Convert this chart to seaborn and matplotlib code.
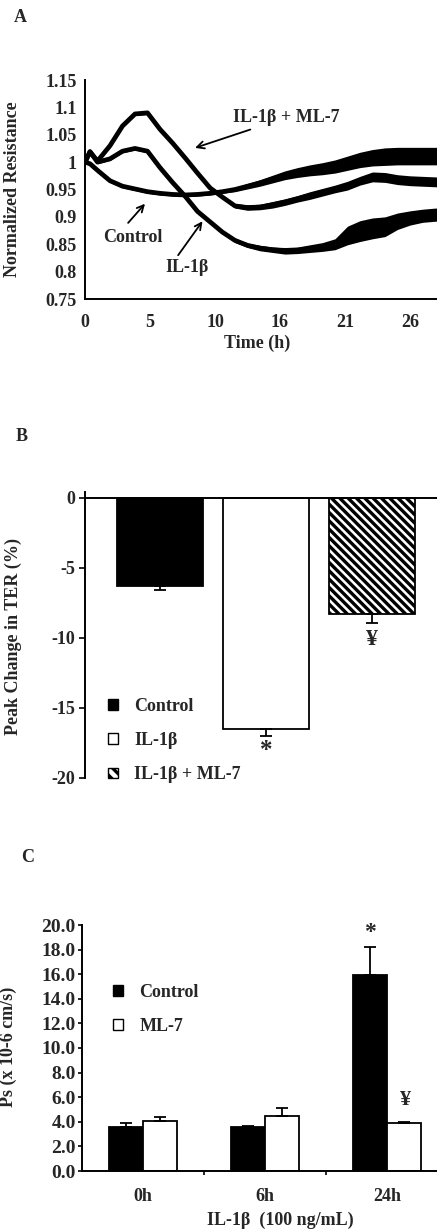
import numpy as np
import pandas as pd
import matplotlib
matplotlib.use("Agg")
import matplotlib.pyplot as plt
import seaborn as sns
from matplotlib.patches import Patch

# ---------------- Panel A data ----------------
time_h = [0, 0.4, 1, 2, 3, 4, 5, 6, 7, 8, 9, 10, 11, 12, 13, 14, 15, 16,
          17, 18, 19, 20, 21, 22, 23, 24, 25, 26, 27, 28, 29, 30, 31]
control_res = [1.0, 0.997, 0.985, 0.966, 0.956, 0.951, 0.946, 0.943, 0.941,
               0.940, 0.941, 0.943, 0.946, 0.950, 0.956, 0.962, 0.969, 0.976,
               0.981, 0.985, 0.988, 0.992, 0.998, 1.004, 1.008, 1.010, 1.011,
               1.011, 1.011, 1.011, 1.012, 1.013, 1.014]
il1b_res = [1.0, 1.019, 1.0, 1.006, 1.020, 1.025, 1.020, 0.990, 0.963, 0.938,
            0.910, 0.891, 0.872, 0.857, 0.848, 0.843, 0.840, 0.838, 0.839,
            0.842, 0.845, 0.850, 0.866, 0.874, 0.879, 0.882, 0.892, 0.898,
            0.902, 0.904, 0.905, 0.906, 0.906]
il1b_ml7_res = [1.0, 1.019, 1.002, 1.030, 1.066, 1.088, 1.090, 1.060, 1.035,
                1.008, 0.980, 0.953, 0.936, 0.920, 0.917, 0.918, 0.922, 0.927,
                0.933, 0.939, 0.945, 0.951, 0.957, 0.966, 0.973, 0.972, 0.968,
                0.966, 0.965, 0.964, 0.963, 0.963, 0.963]
control_spread = [0.003, 0.003, 0.003, 0.003, 0.003, 0.003, 0.003, 0.003,
                  0.003, 0.003, 0.003, 0.003, 0.003, 0.004, 0.005, 0.006,
                  0.007, 0.008, 0.009, 0.010, 0.011, 0.012, 0.013, 0.014,
                  0.015, 0.016, 0.016, 0.016, 0.016, 0.016, 0.016, 0.016, 0.016]
il1b_spread = [0.003, 0.003, 0.003, 0.003, 0.003, 0.003, 0.003, 0.003, 0.003,
               0.003, 0.003, 0.003, 0.003, 0.004, 0.004, 0.005, 0.005, 0.006,
               0.006, 0.007, 0.008, 0.010, 0.017, 0.019, 0.019, 0.018, 0.015,
               0.013, 0.012, 0.012, 0.012, 0.012, 0.012]
il1b_ml7_spread = [0.003, 0.003, 0.003, 0.003, 0.003, 0.003, 0.003, 0.003,
                   0.003, 0.003, 0.003, 0.003, 0.003, 0.004, 0.005, 0.005,
                   0.006, 0.006, 0.006, 0.007, 0.007, 0.007, 0.008, 0.008,
                   0.009, 0.009, 0.009, 0.009, 0.009, 0.009, 0.009, 0.009, 0.009]
a_xtick_pos = [0, 5.2, 10.4, 15.6, 20.8, 26.0]
a_xtick_labels = ['0', '5', '10', '16', '21', '26']
a_ytick_pos = [0.75, 0.8, 0.85, 0.9, 0.95, 1.0, 1.05, 1.1, 1.15]
a_ytick_labels = ['0.75', '0.8', '0.85', '0.9', '0.95', '1', '1.05', '1.1', '1.15']

# ---------------- Panel B data ----------------
ter_groups = ['Control', 'IL-1β', 'IL-1β + ML-7']
ter_change = [-6.3, -16.5, -8.3]
ter_sem = [0.25, 0.5, 0.6]
b_ytick_pos = [0, -5, -10, -15, -20]

# ---------------- Panel C data ----------------
ps_times = ['0h', '6h', '24h']
ps_groups = ['Control', 'ML-7']
ps_control = [3.6, 3.6, 15.9]
ps_ml7 = [4.1, 4.5, 3.9]
ps_control_sem = [0.3, 0.05, 2.3]
ps_ml7_sem = [0.25, 0.6, 0.1]

# ---------------- style ----------------
sns.set_theme(style="white")
plt.rcParams['font.family'] = ['Liberation Serif', 'DejaVu Serif']
plt.rcParams['font.weight'] = 'bold'
plt.rcParams['axes.labelweight'] = 'bold'
plt.rcParams['axes.unicode_minus'] = False
plt.rcParams['hatch.linewidth'] = 2.4
FS = 13

fig = plt.figure(figsize=(4.37, 12.3), dpi=100)
W, H = 437.0, 1230.0

def axpos(left_px, top_px, width_px, height_px):
    return [left_px / W, 1 - (top_px + height_px) / H, width_px / W, height_px / H]

# ================= Panel A =================
axA = fig.add_axes(axpos(85, 80, 390, 219))
dfA = pd.DataFrame({
    'Time': time_h * 3,
    'Resistance': control_res + il1b_res + il1b_ml7_res,
    'Series': ['Control'] * len(time_h) + ['IL-1β'] * len(time_h) + ['IL-1β + ML-7'] * len(time_h),
})
sns.lineplot(data=dfA, x='Time', y='Resistance', hue='Series',
             palette={'Control': 'black', 'IL-1β': 'black', 'IL-1β + ML-7': 'black'},
             linewidth=3.4, legend=False, ax=axA)
t = np.array(time_h)
for vals, spr in [(control_res, control_spread), (il1b_res, il1b_spread),
                  (il1b_ml7_res, il1b_ml7_spread)]:
    v = np.array(vals); s = np.array(spr)
    axA.fill_between(t, v - s, v + s, color='black', linewidth=0)
axA.set_xlim(0, 31.2)
axA.set_ylim(0.75, 1.15)
axA.set_xticks(a_xtick_pos)
axA.set_xticklabels(a_xtick_labels)
axA.set_xticks([2.6, 7.8, 13.0, 18.2, 23.4, 28.6, 31.2], minor=True)
axA.set_yticks(a_ytick_pos)
axA.set_yticklabels(a_ytick_labels)
axA.tick_params(axis='x', which='both', direction='out', length=3, width=1.2,
                pad=8, labelsize=FS, color='black')
axA.tick_params(axis='y', direction='out', length=3, width=1.2, pad=3,
                labelsize=FS, color='black')
for sp in ['top', 'right']:
    axA.spines[sp].set_visible(False)
for sp in ['left', 'bottom']:
    axA.spines[sp].set_linewidth(1.4)
    axA.spines[sp].set_color('black')
axA.set_xlabel('Time (h)', fontsize=FS, fontweight='bold')
axA.xaxis.set_label_coords(0.441, -0.165)
axA.set_ylabel('Normalized Resistance', fontsize=FS, fontweight='bold')
axA.yaxis.set_label_coords(-0.165, 0.5)
arrow = dict(arrowstyle='->', color='black', lw=1.3, shrinkA=0, shrinkB=0)
axA.annotate('IL-1β + ML-7', xy=(8.8, 1.026), xytext=(11.8, 1.081),
             fontsize=FS, fontweight='bold', ha='left', va='center', arrowprops=arrow)
axA.annotate('', xy=(4.8, 0.924), xytext=(3.45, 0.889), arrowprops=arrow)
axA.text(3.85, 0.863, 'Control', fontsize=FS, fontweight='bold', ha='center', va='center')
axA.annotate('', xy=(9.4, 0.892), xytext=(7.45, 0.83), arrowprops=arrow)
axA.text(8.2, 0.808, 'IL-1β', fontsize=FS, fontweight='bold', ha='center', va='center')
fig.text(20 / W, 1 - 17 / H, 'A', fontsize=FS, fontweight='bold', ha='center', va='center')

# ================= Panel B =================
b_top = 498 - 0.4 * 14
axB = fig.add_axes(axpos(85, b_top, 371.8, 778 - b_top))
dfB = pd.DataFrame({'Group': ter_groups, 'Change': ter_change})
sns.barplot(data=dfB, x='Group', y='Change', hue='Group',
            palette={'Control': 'black', 'IL-1β': 'white', 'IL-1β + ML-7': 'white'},
            edgecolor='black', linewidth=1.3, width=0.81, errorbar=None,
            legend=False, ax=axB)
axB.patches[2].set_hatch('\\\\\\\\')
axB.errorbar(range(len(ter_groups)), ter_change, yerr=[ter_sem, [0] * len(ter_sem)],
             fmt='none', ecolor='black', elinewidth=1.3, capsize=4, capthick=1.3)
axB.axhline(0, color='black', lw=1.4)
axB.set_xlim(-0.708, 2.8)
axB.set_ylim(-20, 0.4)
axB.set_yticks(b_ytick_pos)
axB.set_yticklabels([str(v) for v in b_ytick_pos])
axB.set_xticks([])
axB.set_xlabel('')
axB.tick_params(axis='y', direction='out', length=4, width=1.2, pad=3,
                labelsize=FS, color='black', left=True)
for sp in ['top', 'right', 'bottom']:
    axB.spines[sp].set_visible(False)
axB.spines['left'].set_linewidth(1.4)
axB.spines['left'].set_color('black')
axB.set_ylabel('Peak Change in TER (%)', fontsize=FS, fontweight='bold')
axB.yaxis.set_label_coords(-0.169, 0.494)
axB.text(1, -18.0, '*', fontsize=FS + 5, fontweight='bold', ha='center', va='center')
axB.text(2, -10.1, '¥', fontsize=FS + 4, fontweight='bold', ha='center', va='center')
handlesB = [Patch(facecolor='black', edgecolor='black', label='Control'),
            Patch(facecolor='white', edgecolor='black', label='IL-1β'),
            Patch(facecolor='white', edgecolor='black', hatch='\\\\\\', label='IL-1β + ML-7')]
axB.legend(handles=handlesB, loc='upper left', bbox_to_anchor=(0.062, 0.28),
           frameon=False, fontsize=FS, handlelength=0.55, handleheight=0.55,
           handletextpad=0.9, labelspacing=0.95, borderpad=0, borderaxespad=0)
fig.text(22 / W, 1 - 437 / H, 'B', fontsize=FS, fontweight='bold', ha='center', va='center')

# ================= Panel C =================
axC = fig.add_axes(axpos(82, 925, 414.8, 246))
dfC = pd.DataFrame({
    'Time': ps_times * 2,
    'Ps': ps_control + ps_ml7,
    'Group': ['Control'] * 3 + ['ML-7'] * 3,
})
sns.barplot(data=dfC, x='Time', y='Ps', hue='Group',
            palette={'Control': 'black', 'ML-7': 'white'},
            edgecolor='black', linewidth=1.3, width=0.56, errorbar=None,
            legend=False, ax=axC)
xc = np.arange(len(ps_times))
axC.errorbar(xc - 0.14, ps_control, yerr=[[0] * 3, ps_control_sem], fmt='none',
             ecolor='black', elinewidth=1.3, capsize=4, capthick=1.3)
axC.errorbar(xc + 0.14, ps_ml7, yerr=[[0] * 3, ps_ml7_sem], fmt='none',
             ecolor='black', elinewidth=1.3, capsize=4, capthick=1.3)
axC.set_xlim(-0.5, 2.9)
axC.set_ylim(0, 20)
axC.set_yticks(np.arange(0, 20.1, 2))
axC.set_yticklabels([f'{v:.1f}' for v in np.arange(0, 20.1, 2)])
axC.set_xticks(xc)
axC.set_xticklabels(ps_times)
axC.set_xticks([0.5, 1.5, 2.5], minor=True)
axC.tick_params(axis='x', which='major', length=0, pad=12, labelsize=FS)
axC.tick_params(axis='x', which='minor', direction='out', length=3, width=1.2,
                color='black', bottom=True)
axC.tick_params(axis='y', direction='out', length=3, width=1.2, pad=1.5,
                labelsize=FS + 1, color='black', left=True)
for sp in ['top', 'right']:
    axC.spines[sp].set_visible(False)
for sp in ['left', 'bottom']:
    axC.spines[sp].set_linewidth(1.4)
    axC.spines[sp].set_color('black')
axC.set_xlabel('IL-1β  (100 ng/mL)', fontsize=FS, fontweight='bold')
axC.xaxis.set_label_coords(0.477, -0.165)
axC.set_ylabel('Ps (x 10-6 cm/s)', fontsize=FS, fontweight='bold')
axC.yaxis.set_label_coords(-0.157, 0.504)
axC.text(2 - 0.14, 19.4, '*', fontsize=FS + 4, fontweight='bold', ha='center', va='center')
axC.text(2 + 0.15, 5.8, '¥', fontsize=FS + 3, fontweight='bold', ha='center', va='center')
handlesC = [Patch(facecolor='black', edgecolor='black', label='Control'),
            Patch(facecolor='white', edgecolor='black', label='ML-7')]
axC.legend(handles=handlesC, loc='upper left', bbox_to_anchor=(0.0747, 0.76),
           frameon=False, fontsize=FS, handlelength=0.55, handleheight=0.55,
           handletextpad=0.9, labelspacing=0.95, borderpad=0, borderaxespad=0)
fig.text(28 / W, 1 - 857 / H, 'C', fontsize=FS, fontweight='bold', ha='center', va='center')

fig.savefig('out.png', dpi=100)
